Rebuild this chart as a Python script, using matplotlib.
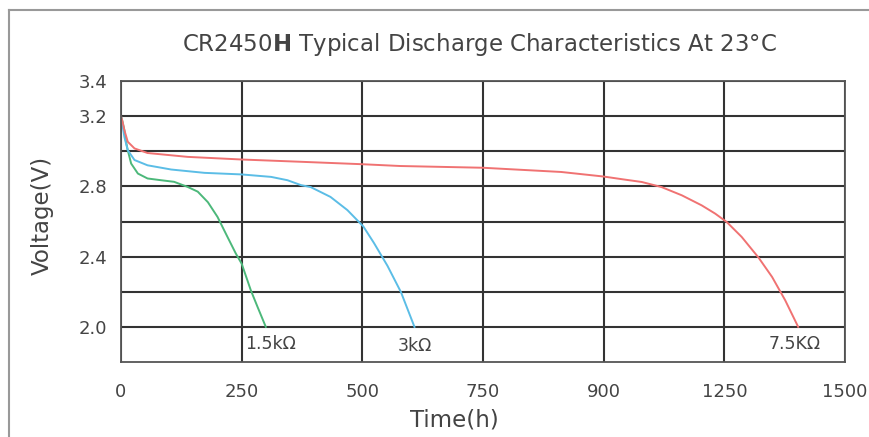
import matplotlib
matplotlib.use("Agg")
import matplotlib.pyplot as plt
from matplotlib.lines import Line2D

# -------------------------
# DATA
# -------------------------

# 1.5 kOhm load
t_15k = [0, 3, 7, 10, 14, 21, 35, 55, 83, 110, 138, 159, 180, 200, 221, 238,
         250, 269, 283, 300]
v_15k = [3.20, 3.17, 3.12, 3.06, 3.006, 2.93, 2.873, 2.845, 2.835, 2.826,
         2.797, 2.77, 2.71, 2.626, 2.51, 2.417, 2.36, 2.208, 2.113, 2.00]

# 3 kOhm load
t_3k = [0, 3, 7, 14, 28, 55, 104, 173, 250, 311, 345, 373, 393, 434, 469, 502,
        524, 552, 580, 608]
v_3k = [3.20, 3.15, 3.082, 3.006, 2.95, 2.92, 2.896, 2.877, 2.868, 2.854,
        2.835, 2.807, 2.796, 2.74, 2.665, 2.572, 2.478, 2.348, 2.198, 2.00]

# 7.5 kOhm load
t_75k = [0, 3, 7, 14, 28, 55, 138, 250, 373, 501, 578, 750, 912, 1000, 1040,
         1079, 1120, 1162, 1203, 1231, 1255, 1286, 1321, 1349, 1376, 1403]
v_75k = [3.20, 3.17, 3.12, 3.054, 3.016, 2.99, 2.968, 2.953, 2.94, 2.926,
         2.916, 2.906, 2.882, 2.856, 2.84, 2.825, 2.796, 2.749, 2.692, 2.645,
         2.597, 2.512, 2.394, 2.284, 2.152, 2.00]

x_ticks = [0, 250, 500, 750, 1000, 1250, 1500]
x_labels = ["0", "250", "500", "750", "900", "1250", "1500"]   # "900" as printed
y_ticks = [2.0, 2.2, 2.4, 2.6, 2.8, 3.0, 3.2, 3.4]
y_labels = ["2.0", "", "2.4", "", "2.8", "", "3.2", "3.4"]

# -------------------------
# PLOTTING
# -------------------------

plt.rcParams["font.family"] = ["DejaVu Sans"]
txt = "#444444"
grid_c = "#333333"

fig = plt.figure(figsize=(8.69, 4.37), dpi=100)
ax = fig.add_axes([121 / 869, 1 - 362 / 437, 724 / 869, 281 / 437])

ax.plot(t_15k, v_15k, color="#4cb87a", lw=1.4)
ax.plot(t_3k, v_3k, color="#5bbde6", lw=1.4)
ax.plot(t_75k, v_75k, color="#f07272", lw=1.4)

ax.set_xlim(0, 1500)
ax.set_ylim(1.8, 3.4)
ax.set_xticks(x_ticks)
ax.set_xticklabels(x_labels)
ax.set_yticks(y_ticks)
ax.set_yticklabels(y_labels)
ax.tick_params(length=0, labelsize=13, colors=txt)
ax.tick_params(axis="x", pad=15)
ax.tick_params(axis="y", pad=10)
ax.grid(True, color=grid_c, lw=1.5)
for s in ax.spines.values():
    s.set_color("#555555")
    s.set_linewidth(1.3)

ax.set_xlabel("Time(h)", fontsize=16.5, color=txt)
ax.set_ylabel("Voltage(V)", fontsize=16.5, color=txt)
ax.xaxis.set_label_coords(0.461, -0.165)
ax.yaxis.set_label_coords(-0.093, 0.523)

# curve labels
ax.text(258, 1.9, "1.5kΩ", fontsize=12.5, color=txt, va="center")
ax.text(573, 1.89, "3kΩ", fontsize=12.5, color=txt, va="center")
ax.text(1342, 1.9, "7.5KΩ", fontsize=12.5, color=txt, va="center")

fig.text(479 / 869, 1 - 45 / 437,
         r"CR2450$\mathbf{H}$ Typical Discharge Characteristics At 23°C",
         fontsize=16.5, color=txt, ha="center", va="center")

# outer frame of the original picture
fig.add_artist(Line2D([9 / 869, 1], [1 - 10 / 437] * 2, color="#999999", lw=1.5))
fig.add_artist(Line2D([9 / 869] * 2, [0, 1 - 10 / 437], color="#999999", lw=1.5))

fig.savefig("out.png", dpi=100)
